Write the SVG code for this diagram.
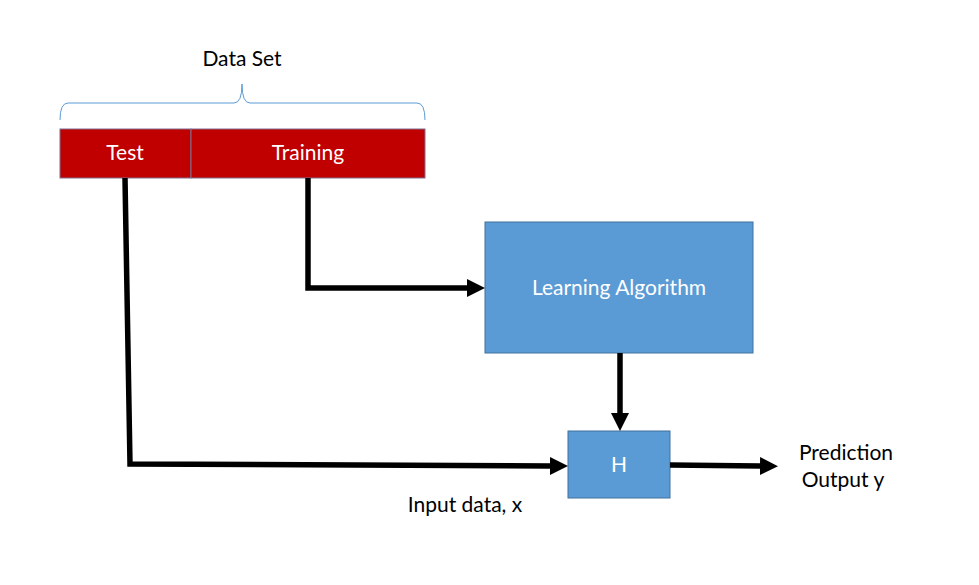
<svg xmlns="http://www.w3.org/2000/svg" width="979" height="585" viewBox="0 0 979 585">
<defs>
<style>
.lbl{font-family:Lato,"Open Sans","Liberation Sans",sans-serif;font-size:21px;fill:#000;text-anchor:middle}
.wl{font-family:Lato,"Open Sans","Liberation Sans",sans-serif;font-size:21px;fill:#fff;text-anchor:middle}
.red{fill:#C00000;stroke:#7F6F8F;stroke-width:1}
.blue{fill:#5B9BD5;stroke:#41719C;stroke-width:1}
.conn{fill:none;stroke:#000;stroke-width:5.5;stroke-linejoin:miter}
</style>
<marker id="ah" markerUnits="userSpaceOnUse" markerWidth="18" markerHeight="18" viewBox="0 0 18 18" refX="0" refY="9" orient="auto">
<path d="M0,0 L18,9 L0,18 z" fill="#000"/>
</marker>
</defs>
<rect width="979" height="585" fill="#fff"/>
<g id="dataset">
<text class="lbl" x="242" y="66">Data Set</text>
<path d="M60,120 Q60,103 68,103 L234,103 Q242,103 242,84 Q242,103 250,103 L417,103 Q425,103 425,120" fill="none" stroke="#5B9BD5" stroke-width="1"/>
</g>
<g id="test">
<rect class="red" x="60" y="129" width="131" height="49"/>
<text class="wl" x="125" y="160">Test</text>
</g>
<g id="training">
<rect class="red" x="191" y="129" width="234" height="49"/>
<text class="wl" x="308" y="160">Training</text>
</g>
<g id="learning">
<rect class="blue" x="485" y="222" width="268" height="131"/>
<text class="wl" x="619" y="295">Learning Algorithm</text>
</g>
<g id="h">
<rect class="blue" x="568" y="431" width="102" height="67"/>
<text class="wl" x="619" y="472">H</text>
</g>
<g id="labels">
<text class="lbl" x="465" y="512">Input data, x</text>
<text class="lbl" x="846" y="460">Prediction</text>
<text class="lbl" x="843" y="487">Output y</text>
</g>
<g id="connectors">
<path class="conn" d="M125,178 L130,464 L550,466" marker-end="url(#ah)"/>
<path class="conn" d="M308,178 L308,288 L467,288" marker-end="url(#ah)"/>
<path class="conn" d="M620,353 L620,413" marker-end="url(#ah)"/>
<path class="conn" d="M670,465 L760,466" marker-end="url(#ah)"/>
</g>
</svg>
